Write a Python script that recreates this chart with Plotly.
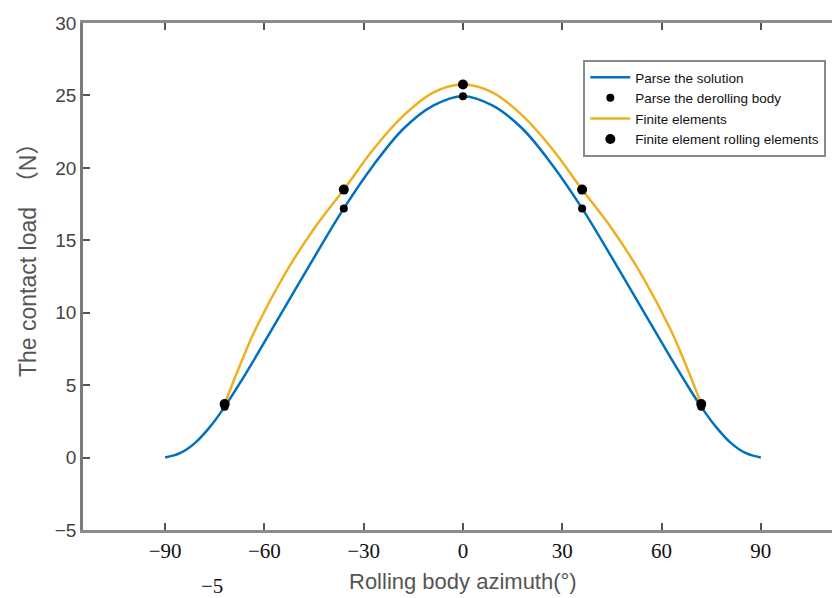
import plotly.graph_objects as go

# ---- data ----
azimuth_analytic = [-90, -85.5, -81, -76.5, -72, -67.5, -63, -54, -45, -36, -27, -18, -9, 0,
                    9, 18, 27, 36, 45, 54, 63, 67.5, 72, 76.5, 81, 85.5, 90]
load_analytic = [0.0, 0.3, 1.0, 2.1, 3.5, 5.1, 6.8, 10.3, 13.8, 17.2, 20.2, 22.7, 24.3, 24.95,
                 24.3, 22.7, 20.2, 17.2, 13.8, 10.3, 6.8, 5.1, 3.5, 2.1, 1.0, 0.3, 0.0]

azimuth_fe = [-72, -67.5, -63, -54, -45, -36, -27, -18, -9, 0,
              9, 18, 27, 36, 45, 54, 63, 67.5, 72]
load_fe = [3.7, 6.3, 8.7, 12.6, 15.8, 18.5, 21.3, 23.6, 25.2, 25.75,
           25.2, 23.6, 21.3, 18.5, 15.8, 12.6, 8.7, 6.3, 3.7]

ball_azimuth = [-72, -36, 0, 36, 72]
ball_load_analytic = [3.5, 17.2, 24.95, 17.2, 3.5]
ball_load_fe = [3.7, 18.5, 25.75, 18.5, 3.7]

x_ticks = [-90, -60, -30, 0, 30, 60, 90]
x_tick_text = ["\u221290", "\u221260", "\u221230", "0", "30", "60", "90"]
y_ticks = [-5, 0, 5, 10, 15, 20, 25, 30]
y_tick_text = ["\u22125", "0", "5", "10", "15", "20", "25", "30"]

BLUE = "#0072BD"
GOLD = "#EDB120"
SANS = "Liberation Sans, Arial, Noto Sans CJK SC, sans-serif"
SERIF = "Liberation Serif, Times New Roman, serif"

fig = go.Figure()
fig.add_trace(go.Scatter(x=azimuth_analytic, y=load_analytic, mode="lines",
                         line=dict(color=BLUE, width=2.5, shape="spline", smoothing=1.0),
                         name="Parse the solution"))
fig.add_trace(go.Scatter(x=ball_azimuth, y=ball_load_analytic, mode="markers",
                         marker=dict(color="black", size=8),
                         name="Parse the derolling body"))
fig.add_trace(go.Scatter(x=azimuth_fe, y=load_fe, mode="lines",
                         line=dict(color=GOLD, width=2.5, shape="spline", smoothing=1.0),
                         name="Finite elements"))
fig.add_trace(go.Scatter(x=ball_azimuth, y=ball_load_fe, mode="markers",
                         marker=dict(color="black", size=10),
                         name="Finite element rolling elements"))

fig.update_layout(
    width=832, height=598,
    margin=dict(l=83, r=0, t=23, b=68),
    paper_bgcolor="white", plot_bgcolor="white",
    showlegend=True,
    legend=dict(x=0.668, y=0.927, xanchor="left", yanchor="top",
                bgcolor="white", bordercolor="#8a8a8a", borderwidth=2,
                font=dict(family=SANS, size=13.5, color="#111"),
                itemwidth=40, tracegroupgap=0),
    xaxis=dict(range=[-114.8, 111.5], tickvals=x_ticks, ticktext=x_tick_text,
               showgrid=False, zeroline=False,
               showline=True, linecolor="#8c8c8c", linewidth=2.5, mirror="ticks",
               ticks="inside", ticklen=7, tickcolor="#555", tickwidth=1.5,
               tickfont=dict(family=SERIF, size=21, color="#111")),
    yaxis=dict(range=[-5, 30], tickvals=y_ticks, ticktext=y_tick_text,
               showgrid=False, zeroline=False,
               showline=True, linecolor="#7a7a7a", linewidth=2.5, mirror=False,
               ticks="inside", ticklen=7, tickcolor="#555", tickwidth=1.5,
               tickfont=dict(family=SANS, size=19, color="#444")),
    annotations=[
        dict(text="The contact load  \uff08N\uff09", xref="paper", yref="paper",
             x=(28 - 83) / 749, y=(530 - 255) / 507, textangle=-90, showarrow=False,
             xanchor="center", yanchor="middle",
             font=dict(family=SANS, size=23, color="#555")),
        dict(text="Rolling body azimuth(\u00b0)", xref="paper", yref="paper",
             x=(463 - 83) / 749, y=(530 - 581) / 507, showarrow=False,
             xanchor="center", yanchor="middle",
             font=dict(family=SANS, size=22, color="#555")),
        dict(text="\u22125", xref="paper", yref="paper",
             x=(212 - 83) / 749, y=(530 - 586) / 507, showarrow=False,
             xanchor="center", yanchor="middle",
             font=dict(family=SERIF, size=21, color="#111")),
    ],
)

fig.write_html("out.html", config={"displayModeBar": False},
               post_script="document.body.style.margin='0';document.body.style.overflow='hidden';")
